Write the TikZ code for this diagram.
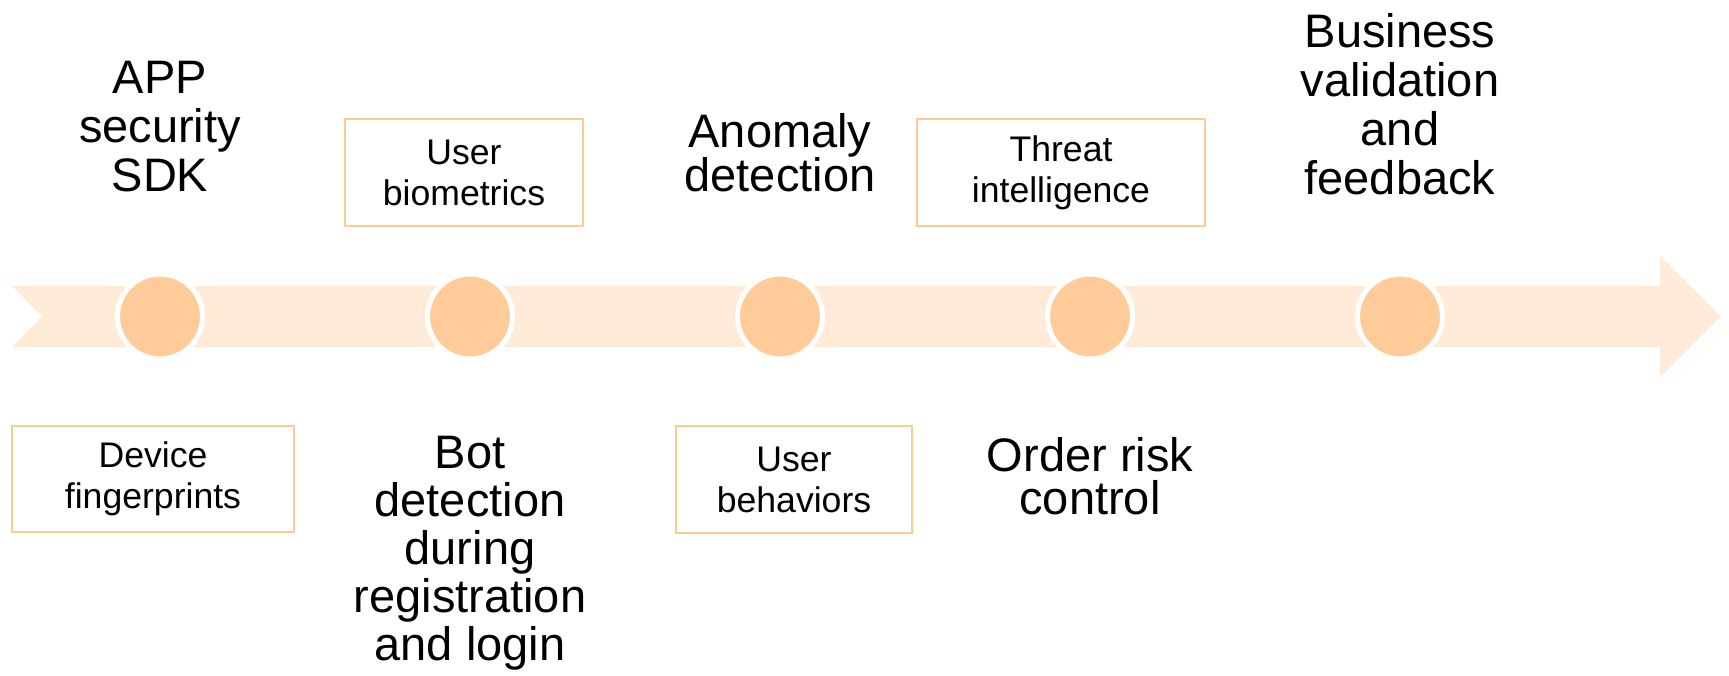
\documentclass[tikz,border=0pt]{standalone}
\usepackage{fontspec}
\setmainfont{Liberation Sans}
\definecolor{bandc}{HTML}{FFEBD7}
\definecolor{dotc}{HTML}{FFCC99}
\definecolor{edgec}{HTML}{FFC995}
\begin{document}
\begin{tikzpicture}[x=0.5pt,y=-0.5pt,
  bigtext/.style={align=center, anchor=north, inner sep=0pt},
  lbl/.style={draw=edgec, line width=1pt, font=\fontsize{17.8}{20.5}\selectfont, align=center, inner sep=0pt},
  dot/.style={circle, fill=dotc, draw=white, line width=2.5pt, minimum size=42.5pt, inner sep=0pt}]
\useasboundingbox (0,0) rectangle (1729,675);
% band arrow
\fill[bandc] (12,286) -- (1660,286) -- (1660,256) -- (1721,316.5) -- (1660,377) -- (1660,347) -- (12,347) -- (42,316.5) -- cycle;
% circles
\node[dot] (c1) at (160,316.5) {};
\node[dot] (c2) at (470,316.5) {};
\node[dot] (c3) at (780,316.5) {};
\node[dot] (c4) at (1090,316.5) {};
\node[dot] (c5) at (1400,316.5) {};
% boxed labels
\node[lbl, minimum width=141pt, minimum height=53pt] (dev) at (153,479) {Device\\fingerprints};
\node[lbl, minimum width=119pt, minimum height=53.5pt] (bio) at (464,172.5) {User\\biometrics};
\node[lbl, minimum width=118pt, minimum height=53.5pt] (beh) at (794,479.5) {User\\behaviors};
\node[lbl, minimum width=144pt, minimum height=53.5pt] (thr) at (1061,172.5) {Threat\\intelligence};
% big texts
\node[bigtext, font=\fontsize{23.5}{24.5}\selectfont] (app) at (160,61) {APP\\security\\SDK};
\node[bigtext, font=\fontsize{23.5}{24.5}\selectfont] (bus) at (1400,13) {Business\\validation\\and\\feedback};
\node[bigtext, font=\fontsize{23.5}{22}\selectfont] (ano) at (780,113) {Anomaly\\detection};
\node[bigtext, font=\fontsize{23.5}{24}\selectfont] (bot) at (470,436) {Bot\\detection\\during\\registration\\and login};
\node[bigtext, font=\fontsize{23.5}{21.5}\selectfont] (ord) at (1090,437) {Order risk\\control};
\end{tikzpicture}
\end{document}
